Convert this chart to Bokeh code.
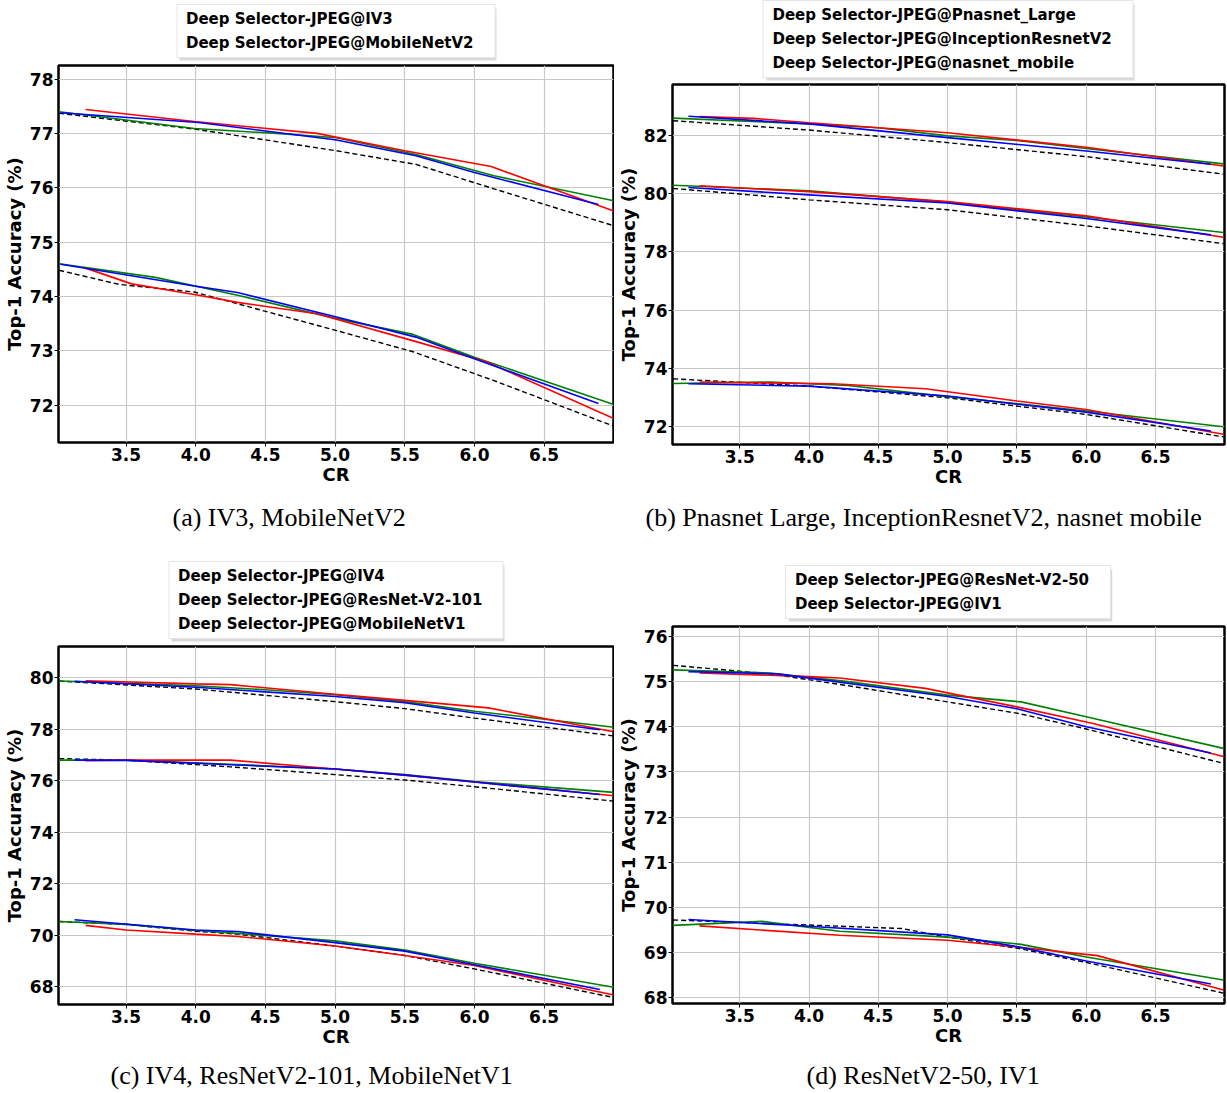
from bokeh.plotting import figure
from bokeh.models import Range1d, FixedTicker, NumeralTickFormatter, Legend, LegendItem
from bokeh.core.properties import value
from bokeh.layouts import column, row
from bokeh.embed import file_html
from bokeh.resources import INLINE

# ---------------- data ----------------
CR_TICKS = [3.5, 4.0, 4.5, 5.0, 5.5, 6.0, 6.5]

# (a)
IV3 = {
    "black": ([3.02, 3.99, 5.01, 5.58, 6.14, 7.0], [77.37, 77.08, 76.68, 76.43, 75.98, 75.30]),
    "green": ([3.02, 3.99, 4.58, 5.01, 5.58, 6.14, 7.0], [77.40, 77.09, 77.00, 76.92, 76.61, 76.22, 75.76]),
    "red": ([3.21, 3.99, 4.87, 5.50, 6.12, 7.0], [77.44, 77.22, 77.00, 76.68, 76.39, 75.57]),
    "blue": ([3.03, 4.02, 5.01, 5.58, 6.00, 6.89], [77.38, 77.20, 76.88, 76.59, 76.28, 75.69]),
}
MOBILENETV2 = {
    "black": ([3.02, 3.45, 3.99, 5.01, 5.56, 6.14, 7.0], [74.48, 74.22, 74.08, 73.37, 72.98, 72.45, 71.61]),
    "green": ([3.02, 3.71, 4.30, 5.01, 5.56, 6.00, 7.0], [74.60, 74.35, 74.02, 73.59, 73.30, 72.88, 72.01]),
    "red": ([3.21, 3.54, 4.02, 4.30, 4.87, 5.55, 6.09, 7.0], [74.52, 74.23, 74.02, 73.89, 73.68, 73.19, 72.79, 71.75]),
    "blue": ([3.03, 3.99, 4.30, 5.01, 5.58, 6.00, 6.89], [74.59, 74.19, 74.07, 73.62, 73.25, 72.85, 72.03]),
}
# (b)
PNASNET_LARGE = {
    "black": ([3.02, 4.0, 5.0, 6.0, 6.99], [82.49, 82.17, 81.74, 81.26, 80.66]),
    "green": ([3.02, 4.0, 4.5, 5.0, 5.5, 6.0, 6.99], [82.58, 82.38, 82.25, 81.97, 81.81, 81.54, 81.01]),
    "red": ([3.21, 3.60, 4.0, 5.0, 6.0, 6.99], [82.63, 82.57, 82.42, 82.08, 81.58, 80.94]),
    "blue": ([3.13, 4.0, 5.0, 6.0, 6.90], [82.64, 82.38, 81.91, 81.45, 81.00]),
}
INCEPTIONRESNETV2 = {
    "black": ([3.02, 4.0, 5.0, 6.0, 6.99], [80.17, 79.78, 79.44, 78.89, 78.28]),
    "green": ([3.02, 4.0, 5.0, 6.0, 6.99], [80.28, 80.09, 79.70, 79.19, 78.66]),
    "red": ([3.21, 4.0, 5.0, 6.0, 6.99], [80.26, 80.06, 79.72, 79.23, 78.50]),
    "blue": ([3.13, 4.0, 5.0, 6.0, 6.90], [80.20, 79.95, 79.67, 79.14, 78.58]),
}
NASNET_MOBILE = {
    "black": ([3.02, 4.0, 5.0, 6.0, 6.99], [73.65, 73.40, 73.00, 72.43, 71.66]),
    "green": ([3.02, 3.72, 4.28, 5.0, 6.0, 6.99], [73.49, 73.54, 73.42, 73.04, 72.55, 72.01]),
    "red": ([3.21, 4.17, 4.84, 5.5, 6.0, 6.99], [73.54, 73.48, 73.31, 72.89, 72.60, 71.75]),
    "blue": ([3.13, 4.0, 5.0, 6.0, 6.90], [73.48, 73.40, 73.06, 72.51, 71.86]),
}
# (c)
IV4 = {
    "black": ([3.02, 4.0, 5.0, 5.5, 6.0, 7.0], [79.87, 79.56, 79.07, 78.80, 78.43, 77.74]),
    "green": ([3.02, 4.0, 4.5, 5.0, 5.5, 6.0, 7.0], [79.87, 79.69, 79.53, 79.34, 79.07, 78.70, 78.08]),
    "red": ([3.21, 4.0, 4.25, 5.0, 5.5, 6.1, 7.0], [79.88, 79.76, 79.73, 79.36, 79.12, 78.83, 77.90]),
    "blue": ([3.13, 4.0, 5.0, 5.5, 6.0, 6.9], [79.86, 79.63, 79.27, 79.03, 78.63, 77.98]),
}
RESNETV2_101 = {
    "black": ([3.02, 3.5, 4.25, 5.0, 5.5, 6.0, 7.0], [76.86, 76.80, 76.54, 76.24, 76.03, 75.77, 75.21]),
    "green": ([3.02, 3.5, 4.25, 5.0, 5.5, 6.0, 7.0], [76.80, 76.80, 76.64, 76.46, 76.24, 75.97, 75.55]),
    "red": ([3.21, 3.5, 4.25, 5.0, 5.5, 6.0, 7.0], [76.78, 76.80, 76.80, 76.46, 76.22, 75.95, 75.42]),
    "blue": ([3.13, 3.5, 4.25, 5.0, 5.5, 6.0, 6.9], [76.80, 76.79, 76.62, 76.46, 76.22, 75.95, 75.47]),
}
MOBILENETV1 = {
    "black": ([3.02, 3.5, 4.0, 4.3, 5.0, 5.5, 6.0, 7.0], [70.54, 70.43, 70.16, 70.05, 69.59, 69.22, 68.70, 67.59]),
    "green": ([3.02, 3.5, 4.0, 4.3, 5.0, 5.5, 6.0, 7.0], [70.54, 70.43, 70.19, 70.08, 69.79, 69.43, 68.92, 67.99]),
    "red": ([3.21, 3.5, 4.0, 4.3, 5.0, 5.5, 6.0, 7.0], [70.39, 70.21, 70.05, 69.96, 69.59, 69.22, 68.83, 67.69]),
    "blue": ([3.13, 4.0, 4.3, 5.0, 5.5, 6.0, 6.9], [70.61, 70.21, 70.15, 69.72, 69.39, 68.86, 67.90]),
}
# (d)
RESNETV2_50 = {
    "black": ([3.02, 3.72, 4.28, 5.0, 5.52, 6.0, 6.99], [75.36, 75.17, 74.91, 74.55, 74.29, 73.95, 73.19]),
    "green": ([3.02, 3.72, 4.28, 5.0, 5.53, 6.0, 6.99], [75.26, 75.19, 75.00, 74.70, 74.55, 74.22, 73.52]),
    "red": ([3.21, 4.0, 4.22, 4.84, 5.5, 6.05, 6.99], [75.19, 75.11, 75.08, 74.85, 74.44, 74.07, 73.34]),
    "blue": ([3.13, 3.77, 5.0, 5.5, 6.0, 6.9], [75.22, 75.17, 74.67, 74.40, 74.00, 73.42]),
}
IV1 = {
    "black": ([3.02, 3.72, 4.67, 5.0, 5.53, 6.0, 6.99], [69.72, 69.64, 69.53, 69.34, 69.08, 68.78, 68.10]),
    "green": ([3.02, 3.66, 4.22, 5.0, 5.53, 6.0, 6.99], [69.60, 69.69, 69.47, 69.34, 69.18, 68.90, 68.39]),
    "red": ([3.21, 4.22, 5.0, 5.5, 6.08, 6.99], [69.59, 69.38, 69.27, 69.12, 68.93, 68.17]),
    "blue": ([3.13, 4.0, 5.0, 5.5, 6.0, 6.9], [69.73, 69.58, 69.39, 69.13, 68.81, 68.30]),
}

LABELS_A = ["Deep Selector-JPEG@IV3", "Deep Selector-JPEG@MobileNetV2"]
LABELS_B = ["Deep Selector-JPEG@Pnasnet_Large", "Deep Selector-JPEG@InceptionResnetV2",
            "Deep Selector-JPEG@nasnet_mobile"]
LABELS_C = ["Deep Selector-JPEG@IV4", "Deep Selector-JPEG@ResNet-V2-101", "Deep Selector-JPEG@MobileNetV1"]
LABELS_D = ["Deep Selector-JPEG@ResNet-V2-50", "Deep Selector-JPEG@IV1"]

YTICKS_A = [72, 73, 74, 75, 76, 77, 78]
YTICKS_B = [72, 74, 76, 78, 80, 82]
YTICKS_C = [68, 70, 72, 74, 76, 78, 80]
YTICKS_D = [68, 69, 70, 71, 72, 73, 74, 75, 76]

CAPTIONS = ["(a) IV3, MobileNetV2", "(b) Pnasnet Large, InceptionResnetV2, nasnet mobile",
            "(c) IV4, ResNetV2-101, MobileNetV1", "(d) ResNetV2-50, IV1"]

COLORS = {"red": "#ff0000", "blue": "#0000ff", "green": "#008000", "black": "#000000"}
BOLD = "DejaVu Sans"

LEG_PAD, LEG_ITEM_H, LEG_SPACING, LEG_GLYPH_W, LEG_STANDOFF = 5, 18, 6, 2, 2


def legend_fig(labels, width, height, bl, br, label_w, margin):
    fw = width - bl - br
    f = figure(width=width, height=height, x_range=Range1d(0, fw), y_range=Range1d(0, height),
               output_backend="svg", toolbar_location=None, title=None,
               x_axis_type=None, y_axis_type=None,
               min_border_left=bl, min_border_right=br, min_border_top=0, min_border_bottom=0)
    f.outline_line_color = None
    # soft drop shadow behind the legend box (legend frame decoration)
    box_w = 2 * LEG_PAD + LEG_GLYPH_W + LEG_STANDOFF + label_w
    box_h = 2 * LEG_PAD + len(labels) * LEG_ITEM_H + (len(labels) - 1) * LEG_SPACING
    left = fw / 2 - box_w / 2
    f.quad(left=[left + 2], right=[left + box_w + 2], bottom=[margin - 2], top=[margin + box_h - 2],
           fill_color="#d9d9d9", line_color=None)
    items = []
    for lab in labels:
        r = f.line(x=[], y=[], line_color="#555555", line_width=1)
        items.append(LegendItem(label=lab, renderers=[r]))
    legend = Legend(items=items, location="bottom_center", orientation="vertical",
                    label_text_font=BOLD, label_text_font_style="bold", label_text_font_size="15px",
                    label_text_color="black", label_standoff=LEG_STANDOFF, label_height=LEG_ITEM_H,
                    label_width=label_w, glyph_width=LEG_GLYPH_W, glyph_height=LEG_ITEM_H,
                    spacing=LEG_SPACING, padding=LEG_PAD, margin=margin,
                    border_line_color="#cccccc", border_line_width=1,
                    background_fill_color="white", background_fill_alpha=1.0)
    f.add_layout(legend)
    return f


def plot_fig(groups, yr, yticks, width, height, bl, br, bt, bb):
    p = figure(width=width, height=height, x_range=Range1d(3.015, 6.998), y_range=Range1d(*yr),
               output_backend="svg", toolbar_location=None, title=None,
               min_border_left=bl, min_border_right=br, min_border_top=bt, min_border_bottom=bb)
    for g in groups:
        for key in ("black", "green", "red", "blue"):
            xs, ys = g[key]
            if key == "black":
                p.line(xs, ys, line_color=COLORS[key], line_width=1.4, line_dash="5 3")
            else:
                p.line(xs, ys, line_color=COLORS[key], line_width=1.6)

    p.xaxis.ticker = FixedTicker(ticks=CR_TICKS)
    p.xaxis.formatter = NumeralTickFormatter(format="0.0")
    p.yaxis.ticker = FixedTicker(ticks=yticks)
    p.yaxis.formatter = NumeralTickFormatter(format="0")
    p.xaxis.axis_label = "CR"
    p.yaxis.axis_label = "Top-1 Accuracy (%)"
    for ax in p.axis:
        ax.axis_label_text_font = BOLD
        ax.axis_label_text_font_style = "bold"
        ax.axis_label_text_font_size = "18px"
        ax.axis_label_text_color = "black"
        ax.major_label_text_font = BOLD
        ax.major_label_text_font_style = "bold"
        ax.major_label_text_font_size = "17px"
        ax.major_label_text_color = "black"
        ax.axis_line_color = None
        ax.major_tick_in = 0
        ax.major_tick_out = 4
        ax.major_tick_line_color = "black"
        ax.minor_tick_line_color = None
        ax.major_label_standoff = 1
    p.xaxis.axis_label_standoff = 0
    p.yaxis.axis_label_standoff = 2

    p.grid.grid_line_color = "#c8c8c8"
    p.grid.grid_line_width = 1.2
    p.outline_line_color = "black"
    p.outline_line_width = 2.5
    p.outline_line_alpha = 1.0
    p.background_fill_color = "white"
    p.border_fill_color = "white"
    return p


def caption_fig(caption, width, height, left_x, cy):
    f = figure(width=width, height=height, x_range=Range1d(0, width), y_range=Range1d(0, height),
               output_backend="svg", toolbar_location=None, title=None,
               x_axis_type=None, y_axis_type=None,
               min_border_left=0, min_border_right=0, min_border_top=0, min_border_bottom=0)
    f.outline_line_color = None
    f.text(x=[left_x], y=[height - cy], text=[caption], text_align="left", text_baseline="middle",
           text_font=value("Liberation Serif"), text_font_size=value("26px"), text_color="black")
    # wrapped in its own row so that its frame is not aligned with the plot above it
    return row(f)


# panel (a): left column, row 1
pa = column(legend_fig(LABELS_A, 614, 62, 58, 1, 303, 4),
            plot_fig([IV3, MOBILENETV2], (71.31, 78.25), YTICKS_A, 614, 430, 58, 1, 3, 50),
            caption_fig(CAPTIONS[0], 614, 56, 172, 25))
# panel (b): right column, row 1
pb = column(legend_fig(LABELS_B, 613, 81, 57, 3, 355, 3),
            plot_fig([PNASNET_LARGE, INCEPTIONRESNETV2, NASNET_MOBILE], (71.40, 83.73), YTICKS_B,
                     613, 413, 57, 3, 3, 50),
            caption_fig(CAPTIONS[1], 613, 54, 31, 23))
# panel (c): left column, row 2
pc = column(legend_fig(LABELS_C, 614, 95, 58, 1, 319, 4),
            plot_fig([IV4, RESNETV2_101, MOBILENETV1], (67.32, 81.21), YTICKS_C, 614, 411, 58, 1, 3, 50),
            caption_fig(CAPTIONS[2], 614, 39, 110, 21))
# panel (d): right column, row 2
pd_ = column(legend_fig(LABELS_D, 613, 75, 57, 3, 310, 4),
             plot_fig([RESNETV2_50, IV1], (67.87, 76.22), YTICKS_D, 613, 430, 57, 3, 3, 50),
             caption_fig(CAPTIONS[3], 613, 40, 192, 22))

layout = column(row(pa, pb), row(pc, pd_))
open("out.html", "w").write(file_html(layout, INLINE))
